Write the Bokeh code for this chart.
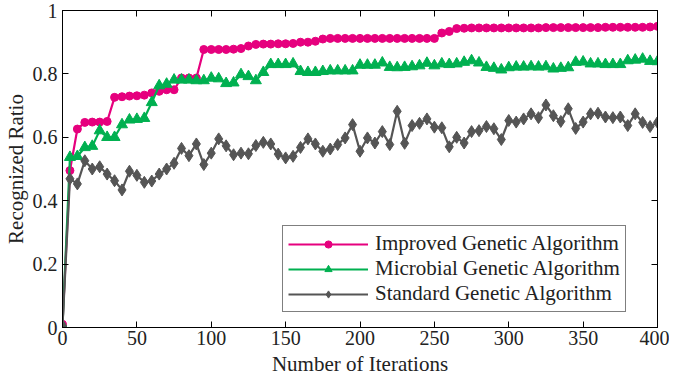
from bokeh.plotting import figure
from bokeh.models import Range1d, LinearAxis, FixedTicker, Legend, LegendItem, CustomJSTickFormatter
from bokeh.embed import file_html
from bokeh.resources import INLINE

iterations = list(range(0, 401, 5))

improved = [0.01, 0.495, 0.626, 0.647, 0.648, 0.648, 0.65, 0.726, 0.728, 0.73,
            0.731, 0.733, 0.74, 0.745, 0.75, 0.75, 0.787, 0.787, 0.787, 0.877,
            0.877, 0.877, 0.877, 0.878, 0.88, 0.888, 0.893, 0.894, 0.894, 0.895,
            0.895, 0.896, 0.9, 0.9, 0.903, 0.91, 0.912, 0.912, 0.912, 0.912,
            0.912, 0.912, 0.912, 0.912, 0.912, 0.912, 0.912, 0.912, 0.912, 0.912,
            0.912, 0.929, 0.934, 0.943, 0.944, 0.945, 0.945, 0.945, 0.945, 0.945,
            0.945, 0.945, 0.945, 0.945, 0.945, 0.946, 0.946, 0.946, 0.946, 0.946,
            0.946, 0.946, 0.946, 0.947, 0.947, 0.947, 0.947, 0.947, 0.947, 0.948,
            0.95]

microbial = [0.005, 0.537, 0.54, 0.568, 0.572, 0.621, 0.6, 0.6, 0.64, 0.655,
             0.657, 0.66, 0.71, 0.763, 0.768, 0.781, 0.781, 0.781, 0.779, 0.779,
             0.787, 0.785, 0.77, 0.772, 0.798, 0.792, 0.779, 0.805, 0.83, 0.83,
             0.83, 0.832, 0.808, 0.805, 0.805, 0.808, 0.81, 0.81, 0.81, 0.81,
             0.828, 0.828, 0.828, 0.835, 0.821, 0.82, 0.821, 0.823, 0.826, 0.834,
             0.826, 0.832, 0.83, 0.832, 0.837, 0.842, 0.835, 0.821, 0.818, 0.813,
             0.82, 0.822, 0.822, 0.823, 0.822, 0.823, 0.816, 0.818, 0.82, 0.837,
             0.838, 0.832, 0.832, 0.83, 0.83, 0.83, 0.842, 0.844, 0.847, 0.84,
             0.839]

standard = [0.005, 0.469, 0.453, 0.526, 0.5, 0.507, 0.484, 0.463, 0.434, 0.493,
            0.48, 0.458, 0.462, 0.484, 0.5, 0.518, 0.565, 0.542, 0.579, 0.514,
            0.55, 0.595, 0.573, 0.545, 0.55, 0.548, 0.574, 0.584, 0.579, 0.547,
            0.535, 0.54, 0.568, 0.595, 0.579, 0.556, 0.563, 0.577, 0.598, 0.64,
            0.556, 0.598, 0.582, 0.618, 0.577, 0.682, 0.581, 0.637, 0.644, 0.658,
            0.632, 0.63, 0.57, 0.6, 0.582, 0.618, 0.621, 0.634, 0.627, 0.593,
            0.653, 0.648, 0.658, 0.674, 0.662, 0.702, 0.668, 0.65, 0.69, 0.628,
            0.648, 0.674, 0.676, 0.664, 0.662, 0.664, 0.637, 0.674, 0.647, 0.634,
            0.647]

x_ticks = [0, 50, 100, 150, 200, 250, 300, 350, 400]
y_ticks = [0, 0.2, 0.4, 0.6, 0.8, 1]
y_tick_labels = {0: "0", 0.2: "0.2", 0.4: "0.4", 0.6: "0.6", 0.8: "0.8", 1: "1"}

names = ["Improved Genetic Algorithm", "Microbial Genetic Algorithm", "Standard Genetic Algorithm"]
colors = ["#E6007E", "#00B050", "#555555"]

FONT = "Liberation Serif"

p = figure(width=669, height=380, output_backend="svg", toolbar_location=None,
           x_range=Range1d(0, 400), y_range=Range1d(0, 1),
           min_border_left=62, min_border_right=12, min_border_top=10, min_border_bottom=53)
p.outline_line_color = "black"
p.outline_line_width = 1
p.grid.visible = False
p.background_fill_color = "white"

for ax in [p.xaxis[0], p.yaxis[0]]:
    ax.major_tick_in = 6
    ax.major_tick_out = 0
    ax.minor_tick_in = 0
    ax.minor_tick_out = 0
    ax.axis_line_color = "black"
    ax.major_label_text_font = FONT
    ax.major_label_text_font_size = "20px"
    ax.major_label_text_color = "#222222"
    ax.axis_label_text_font = FONT
    ax.axis_label_text_font_size = "21px"
    ax.axis_label_text_font_style = "normal"
    ax.axis_label_text_color = "#222222"

p.xaxis[0].ticker = FixedTicker(ticks=x_ticks)
p.yaxis[0].ticker = FixedTicker(ticks=y_ticks)
p.yaxis[0].major_label_overrides = y_tick_labels
p.xaxis[0].axis_label = "Number of Iterations"
p.yaxis[0].axis_label = "Recognized Ratio"
p.xaxis[0].major_label_standoff = 3
p.yaxis[0].major_label_standoff = 5
p.xaxis[0].axis_label_standoff = 4
p.yaxis[0].axis_label_standoff = 2

blank = CustomJSTickFormatter(code="return ''")
top = LinearAxis(ticker=FixedTicker(ticks=x_ticks), formatter=blank, major_tick_in=6, major_tick_out=0,
                 minor_tick_in=0, minor_tick_out=0, major_label_standoff=0)
right = LinearAxis(ticker=FixedTicker(ticks=y_ticks), formatter=blank, major_tick_in=6, major_tick_out=0,
                   minor_tick_in=0, minor_tick_out=0, major_label_standoff=0)
p.add_layout(top, "above")
p.add_layout(right, "right")

r1l = p.line(iterations, improved, color=colors[0], line_width=2.2)
r1m = p.scatter(iterations, improved, marker="circle", size=8, color=colors[0])
r2l = p.line(iterations, microbial, color=colors[1], line_width=2.2)
r2m = p.scatter(iterations, microbial, marker="triangle", size=11, color=colors[1])
r3l = p.line(iterations, standard, color=colors[2], line_width=2.2)
r3m = p.scatter(iterations, standard, marker="diamond", size=12, color=colors[2])

legend = Legend(items=[
    LegendItem(label=names[0], renderers=[r1l, r1m]),
    LegendItem(label=names[1], renderers=[r2l, r2m]),
    LegendItem(label=names[2], renderers=[r3l, r3m]),
], location=(220, 15))
legend.label_text_font = FONT
legend.label_text_font_size = "21px"
legend.label_text_color = "#222222"
legend.glyph_width = 80
legend.glyph_height = 18
legend.label_height = 18
legend.label_standoff = 7
legend.spacing = 0
legend.padding = 5
legend.margin = 0
legend.border_line_color = "black"
legend.border_line_width = 1
legend.background_fill_alpha = 1
p.add_layout(legend)

open("out.html", "w").write(file_html(p, INLINE))
